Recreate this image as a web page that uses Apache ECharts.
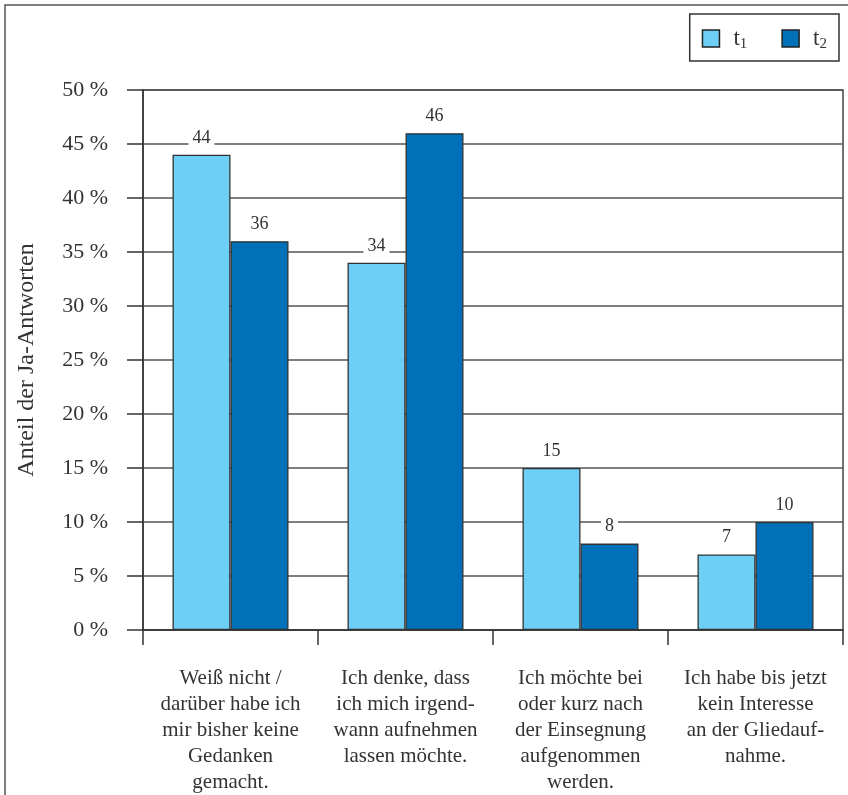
<!DOCTYPE html>
<html><head><meta charset="utf-8">
<script src="https://cdn.jsdelivr.net/npm/echarts@6/dist/echarts.min.js"></script>
<style>html,body{margin:0;padding:0;background:#fff}#c{width:848px;height:795px}</style>
</head><body><div id="c"></div>
<script>
const categories = [
  'Weiß nicht /\ndarüber habe ich\nmir bisher keine\nGedanken\ngemacht.',
  'Ich denke, dass\nich mich irgend-\nwann aufnehmen\nlassen möchte.',
  'Ich möchte bei\noder kurz nach\nder Einsegnung\naufgenommen\nwerden.',
  'Ich habe bis jetzt\nkein Interesse\nan der Gliedauf-\nnahme.'
];
const seriesNames = ['t1', 't2'];
const t1Values = [44, 34, 15, 7];
const t2Values = [36, 46, 8, 10];
const yTicks = [0, 5, 10, 15, 20, 25, 30, 35, 40, 45, 50];

const FONT = 'Liberation Serif';
const chart = echarts.init(document.getElementById('c'));
const labelCfg = {
  show: true, position: 'top', distance: 6,
  fontFamily: FONT, fontSize: 18, color: '#333',
  backgroundColor: '#fff', padding: [1, 4, 2, 4]
};
chart.setOption({
  animation: false,
  textStyle: { fontFamily: FONT },
  graphic: [{
    type: 'rect', shape: { x: 5, y: 5, width: 860, height: 820 },
    style: { fill: 'none', stroke: '#555', lineWidth: 1.5 }, z: 100
  }],
  legend: {
    right: 9, top: 14,
    orient: 'horizontal',
    itemWidth: 17, itemHeight: 17, itemGap: 34,
    padding: [13, 12, 9, 12],
    borderColor: '#333', borderWidth: 1.5,
    icon: 'rect',
    itemStyle: { borderColor: '#222', borderWidth: 1.5 },
    formatter: function (n) { return '{a|t}{b|' + n.slice(1) + '}'; },
    textStyle: {
      rich: {
        a: { fontFamily: FONT, fontSize: 23, color: '#333', padding: [0, 0, 0, 9] },
        b: { fontFamily: FONT, fontSize: 15, color: '#333', padding: [12, 0, 0, 0] }
      }
    }
  },
  grid: { left: 143, right: 5, top: 90, bottom: 165, show: true, borderColor: '#444', borderWidth: 1.5 },
  xAxis: {
    type: 'category', data: categories,
    axisLine: { lineStyle: { color: '#333', width: 1.5 } },
    axisTick: { show: true, length: 15, alignWithLabel: false, lineStyle: { color: '#333', width: 1.5 } },
    axisLabel: {
      margin: 36, interval: 0, fontFamily: FONT, fontSize: 21, color: '#333',
      lineHeight: 25.8, align: 'center'
    }
  },
  yAxis: {
    type: 'value', min: yTicks[0], max: yTicks[yTicks.length - 1], interval: yTicks[1] - yTicks[0],
    name: 'Anteil der Ja-Antworten', nameLocation: 'middle', nameGap: 104,
    nameTextStyle: { fontFamily: FONT, fontSize: 24, color: '#333' },
    axisLine: { show: true, lineStyle: { color: '#333', width: 1.5 } },
    axisTick: { show: true, length: 16, lineStyle: { color: '#333', width: 1.5 } },
    axisLabel: { margin: 35, fontFamily: FONT, fontSize: 22, color: '#333', formatter: '{value} %', padding: [0, 0, 6, 0] },
    splitLine: { show: true, lineStyle: { color: '#555', width: 1.5 } }
  },
  series: [
    {
      name: seriesNames[0], type: 'bar', data: t1Values, barWidth: 58, barGap: '0%',
      itemStyle: { color: '#6dcff6', borderColor: '#333', borderWidth: 1.3 },
      label: labelCfg
    },
    {
      name: seriesNames[1], type: 'bar', data: t2Values, barWidth: 58, barGap: '0%',
      itemStyle: { color: '#0070b8', borderColor: '#333', borderWidth: 1.3 },
      label: labelCfg
    }
  ]
});
</script></body></html>
